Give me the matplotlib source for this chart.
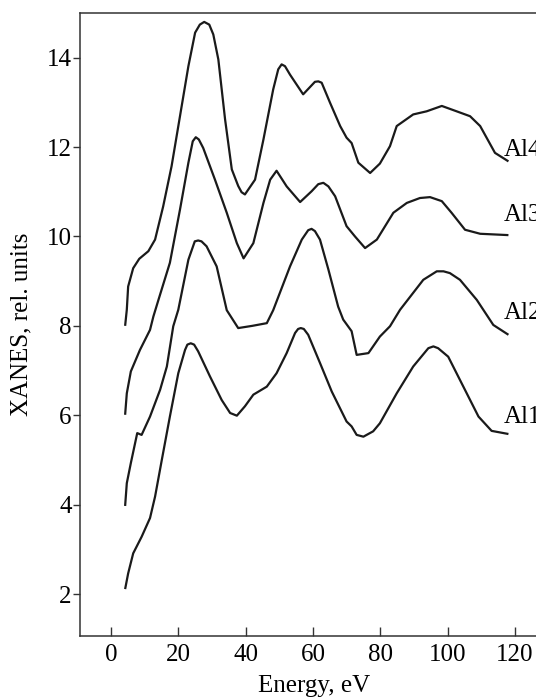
import matplotlib
matplotlib.use("Agg")
import matplotlib.pyplot as plt

plt.rcParams['font.family'] = ['Liberation Serif', 'DejaVu Serif']

al4_x = [4.2, 4.7, 5.1, 6.6, 8.4, 11.1, 13.1, 15.5, 18.0, 20.5, 23.0, 25.0, 26.4, 27.7, 29.2, 30.4, 31.9,
         33.9, 35.9, 37.8, 38.8, 39.8, 42.8, 45.3, 48.2, 49.7, 50.7, 51.7, 53.2, 57.1, 60.6, 61.6, 62.6,
         65.1, 68.1, 70.0, 71.5, 73.5, 77.0, 79.9, 82.9, 84.9, 89.8, 93.8, 98.3, 102.7, 106.7, 109.7,
         114.1, 118.1]
al4_y = [8.0, 8.36, 8.88, 9.29, 9.50, 9.67, 9.93, 10.67, 11.57, 12.69, 13.81, 14.56, 14.74, 14.80, 14.74, 14.52, 13.96,
         12.62, 11.50, 11.13, 10.99, 10.94, 11.27, 12.17, 13.29, 13.74, 13.85, 13.81, 13.62, 13.18, 13.46, 13.47, 13.44,
         12.99, 12.47, 12.21, 12.09, 11.65, 11.42, 11.63, 12.02, 12.47, 12.73, 12.80, 12.92, 12.80, 12.69, 12.47,
         11.87, 11.68]

al3_x = [4.2, 4.7, 5.9, 8.6, 11.6, 12.6, 14.1, 17.5, 20.5, 23.0, 24.3, 25.2, 26.1, 27.4, 30.9, 34.4, 37.4,
         39.4, 42.3, 45.3, 47.3, 49.2, 52.2, 56.2, 59.6, 61.6, 63.1, 64.6, 66.6, 70.0, 72.5, 75.5, 79.0,
         83.9, 87.9, 91.8, 94.8, 98.3, 101.2, 105.2, 109.7, 118.1]
al3_y = [6.01, 6.49, 6.98, 7.46, 7.91, 8.21, 8.58, 9.41, 10.60, 11.65, 12.13, 12.22, 12.17, 11.98, 11.27, 10.53, 9.85,
         9.51, 9.85, 10.75, 11.27, 11.47, 11.12, 10.77, 11.01, 11.17, 11.20, 11.12, 10.90, 10.23, 10.00, 9.74, 9.93,
         10.53, 10.75, 10.86, 10.88, 10.79, 10.53, 10.15, 10.06, 10.03]

al2_x = [4.2, 4.7, 5.9, 7.8, 9.1, 11.6, 14.6, 16.6, 18.5, 20.0, 23.0, 24.9, 25.9, 26.9, 28.4, 31.4, 34.4,
         37.8, 42.0, 46.3, 48.2, 53.2, 56.7, 58.6, 59.6, 60.6, 62.1, 64.6, 67.5, 69.0, 71.5, 73.0, 76.5,
         79.9, 82.9, 85.9, 92.8, 96.8, 98.8, 100.7, 103.7, 108.7, 113.6, 118.1]
al2_y = [3.97, 4.48, 4.93, 5.60, 5.56, 5.97, 6.57, 7.09, 7.99, 8.36, 9.48, 9.89, 9.91, 9.89, 9.78, 9.33, 8.35,
         7.95, 8.00, 8.06, 8.35, 9.33, 9.93, 10.14, 10.17, 10.12, 9.93, 9.26, 8.43, 8.14, 7.88, 7.35, 7.39,
         7.76, 7.99, 8.36, 9.03, 9.22, 9.22, 9.18, 9.03, 8.58, 8.02, 7.80]

al1_x = [4.2, 5.1, 6.6, 9.1, 11.6, 13.1, 15.1, 17.5, 20.0, 22.0, 22.7, 23.7, 24.7, 25.9, 29.4, 32.9, 35.4,
         37.4, 39.8, 42.3, 46.3, 49.2, 52.2, 54.7, 55.6, 56.4, 57.3, 58.6, 62.1, 65.6, 70.0, 71.5, 73.0,
         75.0, 77.9, 79.9, 84.9, 89.8, 94.3, 95.8, 97.2, 100.2, 104.7, 109.2, 113.1, 118.1]
al1_y = [2.11, 2.46, 2.91, 3.28, 3.70, 4.18, 5.00, 5.97, 6.94, 7.46, 7.58, 7.61, 7.58, 7.43, 6.87, 6.34, 6.05,
         5.99, 6.20, 6.46, 6.64, 6.94, 7.39, 7.84, 7.93, 7.95, 7.93, 7.80, 7.17, 6.53, 5.86, 5.75, 5.56,
         5.52, 5.64, 5.82, 6.49, 7.09, 7.50, 7.54, 7.50, 7.31, 6.64, 5.97, 5.65, 5.58]

labels = ["Al4", "Al3", "Al2", "Al1"]
label_y = [11.94, 10.49, 8.29, 5.97]
label_x = 116.7

x_ticks = [0, 20, 40, 60, 80, 100, 120]
y_ticks = [2, 4, 6, 8, 10, 12, 14]

fig = plt.figure(figsize=(5.36, 6.98), dpi=100)
ax = fig.add_axes([0.1493, 0.0888, 0.874, 0.8926])

for xs, ys in [(al4_x, al4_y), (al3_x, al3_y), (al2_x, al2_y), (al1_x, al1_y)]:
    ax.plot(xs, ys, color='#1a1a1a', lw=1.6, solid_joinstyle='round', solid_capstyle='butt')

for lab, ly in zip(labels, label_y):
    ax.text(label_x, ly, lab, fontsize=18, ha='left', va='center', color='black', clip_on=False)

ax.set_xlim(-9.2, 130)
ax.set_ylim(1.06, 15.0)
ax.set_xticks(x_ticks)
ax.set_yticks(y_ticks)
ax.tick_params(axis='x', direction='in', length=6.5, width=1.0, pad=6, labelsize=18, colors='#333333', labelcolor='black')
ax.tick_params(axis='y', direction='out', length=5, width=1.0, pad=1, labelsize=18, colors='#333333', labelcolor='black')
for s in ax.spines.values():
    s.set_linewidth(1.1)
    s.set_color('#333333')

ax.set_xlabel("Energy, eV", fontsize=18, labelpad=6)
ax.set_ylabel("XANES, rel. units", fontsize=18, labelpad=10)

fig.savefig("out.png", dpi=100)
